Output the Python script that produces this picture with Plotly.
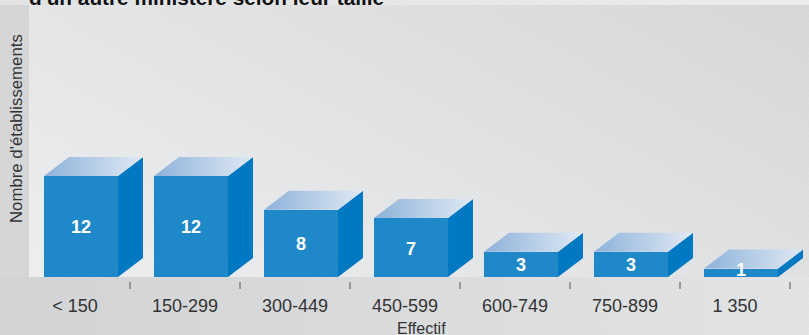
import numpy as np
import zlib
import struct
import base64
import plotly.graph_objects as go

# ---------------- data ----------------
categories = ["< 150", "150-299", "300-449", "450-599", "600-749", "750-899", "1 350"]
values = [12, 12, 8, 7, 3, 3, 1]
title_text = "d'un autre ministère selon leur taille"
y_title = "Nombre d'établissements"
x_title = "Effectif"

# ---------------- layout geometry ----------------
W, H = 809, 335
ML, MR, MT, MB = 29, 0, 5, 58
PW, PH = W - ML - MR, H - MT - MB
CAT_PX = 110.0          # pixels per category
VAL_PX = 8.42           # pixels per unit of value
X0 = -0.5 + 9 / CAT_PX
x_range = [X0, X0 + PW / CAT_PX]
y_range = [0, PH / VAL_PX]

FRONT_LEFT = -0.282
FRONT_W = 0.673
DEPTH_X = 25 / CAT_PX
DEPTH_Y = 19 / VAL_PX

FONT = "Liberation Sans, Arial, sans-serif"
FRONT_COL = "#1e88c9"
SIDE_COL = "#0079c2"


# ---------------- background image ----------------
def make_png(arr):
    h, w, _ = arr.shape
    raw = b"".join(b"\x00" + arr[r].tobytes() for r in range(h))

    def chunk(tag, data):
        c = struct.pack(">I", len(data)) + tag + data
        return c + struct.pack(">I", zlib.crc32(tag + data) & 0xFFFFFFFF)

    png = (b"\x89PNG\r\n\x1a\n"
           + chunk(b"IHDR", struct.pack(">IIBBBBB", w, h, 8, 2, 0, 0, 0))
           + chunk(b"IDAT", zlib.compress(raw, 9))
           + chunk(b"IEND", b""))
    return "data:image/png;base64," + base64.b64encode(png).decode()


yy, xx = np.mgrid[0:H, 0:W].astype(float)
fx = xx / W
g = np.full((H, W), 213.0)
panel = (xx >= ML) & (yy >= MT) & (yy < H - MB)
fpx = (xx - ML) / PW
fpy = (yy - MT) / PH
g[panel] = (229 + 9 * fpy - 14 * fpx)[panel]
bottom = yy >= H - MB
g[bottom] = (211 + 16 * fx)[bottom]
top = yy < MT
g[top] = (226 + 10 * fx)[top]
hatch = ((xx - yy) % 5 == 0)
g = g + np.where(hatch, 4.0, 0.0)
rgb = np.stack([g - 1, g, g + 2], axis=-1)
rgb = np.clip(rgb, 0, 255).astype(np.uint8)
bg_uri = make_png(rgb)

# ---------------- figure ----------------
fig = go.Figure()
idx = list(range(len(categories)))

fig.add_trace(go.Bar(
    x=idx, y=values, width=FRONT_W, offset=FRONT_LEFT,
    marker=dict(color=FRONT_COL, line=dict(width=0)),
    hoverinfo="skip", showlegend=False,
))

for i, v in zip(idx, values):
    xl = i + FRONT_LEFT
    xr = xl + FRONT_W
    # side face
    fig.add_trace(go.Scatter(
        x=[xr, xr + DEPTH_X, xr + DEPTH_X, xr, xr],
        y=[0, DEPTH_Y, v + DEPTH_Y, v, 0],
        mode="lines", fill="toself", fillcolor=SIDE_COL,
        line=dict(width=0, color=SIDE_COL), hoverinfo="skip", showlegend=False,
    ))
    # top face
    fig.add_trace(go.Scatter(
        x=[xl, xr, xr + DEPTH_X, xl + DEPTH_X, xl],
        y=[v, v, v + DEPTH_Y, v + DEPTH_Y, v],
        mode="lines", fill="toself",
        fillgradient=dict(type="horizontal",
                          colorscale=[[0, "#8db2da"], [1, "#e0e9f4"]]),
        line=dict(width=0, color="#b8cde6"), hoverinfo="skip", showlegend=False,
    ))

annotations = []
for i, v in zip(idx, values):
    annotations.append(dict(
        x=i + FRONT_LEFT + FRONT_W / 2, y=max(v / 2, 1), xref="x", yref="y",
        text=f"<b>{v}</b>", showarrow=False, yshift=-1,
        font=dict(family=FONT, size=18, color="white"),
    ))

annotations.append(dict(
    x=0, y=1, xref="paper", yref="paper", xanchor="left", yanchor="bottom",
    xshift=-2, yshift=-6.5, text=f"<b>{title_text}</b>", showarrow=False,
    font=dict(family=FONT, size=20.8, color="#111111"),
))
annotations.append(dict(
    x=0, y=(PH - (129 - MT)) / PH, xref="paper", yref="paper",
    xanchor="center", yanchor="middle",
    xshift=-13, text=y_title, textangle=-90, showarrow=False,
    font=dict(family=FONT, size=16.8, color="#333333"),
))
annotations.append(dict(
    x=(421 - ML) / PW, y=-(318 - (H - MB)) / PH, xref="paper", yref="paper",
    yanchor="top", text=x_title, showarrow=False,
    font=dict(family=FONT, size=16, color="#333333"),
))

shapes = []
for i in idx:
    shapes.append(dict(
        type="line", xref="x", yref="paper",
        x0=i + 0.5, x1=i + 0.5, y0=-5 / PH, y1=-12 / PH,
        line=dict(color="#555555", width=1),
    ))

fig.update_layout(
    width=W, height=H,
    margin=dict(l=ML, r=MR, t=MT, b=MB, autoexpand=False),
    paper_bgcolor="#d8d9db", plot_bgcolor="rgba(0,0,0,0)",
    showlegend=False, bargap=0,
    images=[dict(source=bg_uri, xref="paper", yref="paper",
                 x=-ML / PW, y=1 + MT / PH, sizex=W / PW, sizey=H / PH,
                 sizing="stretch", xanchor="left", yanchor="top", layer="below")],
    annotations=annotations, shapes=shapes,
    xaxis=dict(range=x_range, tickvals=idx, ticktext=categories,
               showgrid=False, zeroline=False, showline=False, ticks="",
               ticklabelstandoff=16, fixedrange=True,
               tickfont=dict(family=FONT, size=18, color="#333333")),
    yaxis=dict(range=y_range, showgrid=False, zeroline=False, showline=False,
               showticklabels=False, ticks="", fixedrange=True),
)

fig.write_html(
    "out.html",
    config={"displayModeBar": False},
    post_script="document.body.style.margin='0';document.body.style.overflow='hidden';",
)
